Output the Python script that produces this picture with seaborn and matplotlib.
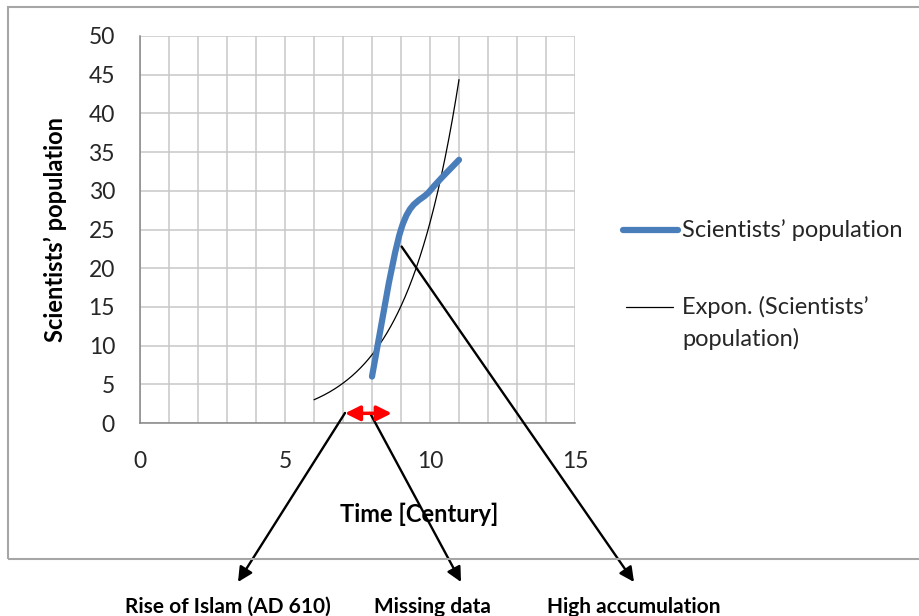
import numpy as np
import matplotlib.pyplot as plt
import seaborn as sns
from matplotlib.path import Path
from matplotlib.patches import PathPatch, Rectangle
from matplotlib.lines import Line2D
from matplotlib.ticker import MultipleLocator

# ── Data ──────────────────────────────────────────────────────────────────
century    = [8, 9, 10, 11]
scientists = [6, 25, 30, 34]
trend_from = 6          # exponential trendline, forecast backward to century 6

# ── Annotations (positions of the hand-drawn arrows) ─────────────────────
span_x     = [7.07, 8.68]
span_y     = 1.25
arrow_from = [(7.07, 1.3), (7.93, 1.3), (9.02, 22.8)]
arrow_to   = [(238, 582), (461, 582), (634, 582)]      # figure pixels, from top
notes      = ['Rise of Islam (AD 610)', 'Missing data', 'High accumulation']
notes_x    = [228, 432, 634]

BLUE  = '#4A7EBB'
GRID  = '#C8C8C8'
AXIS  = '#868686'
TEXT  = '#262626'
W, H  = 920, 616

sns.set_theme(style='white')
plt.rcParams['font.family'] = ['Lato', 'DejaVu Sans']


def fig_xy(x, y):
    return x / W, 1 - y / H


fig = plt.figure(figsize=(W / 100, H / 100), dpi=100)
fig.patch.set_facecolor('white')
ax = fig.add_axes([140 / W, 1 - 423 / H, 435 / W, 387 / H])

# ── Exponential trendline fitted to the series ───────────────────────────
b, ln_a = np.polyfit(century, np.log(scientists), 1)
trend_x = np.linspace(trend_from, max(century), 200)
trend_y = np.exp(ln_a + b * trend_x)
sns.lineplot(x=trend_x, y=trend_y, color='black', linewidth=0.9, ax=ax, zorder=3)

# ── Smoothed series (Bezier through the points, like a spreadsheet "smoothed line")
pts = np.column_stack([century, scientists]).astype(float)
verts, codes = [pts[0]], [Path.MOVETO]
n = len(pts)
for i in range(n - 1):
    prev_p = pts[max(i - 1, 0)]
    next_p = pts[min(i + 2, n - 1)]
    c1 = pts[i] + (pts[i + 1] - prev_p) / 6
    c2 = pts[i + 1] - (next_p - pts[i]) / 6
    verts += [c1, c2, pts[i + 1]]
    codes += [Path.CURVE4] * 3
ax.add_patch(PathPatch(Path(verts, codes), fill=False, edgecolor=BLUE,
                       linewidth=4.5, capstyle='round', joinstyle='round', zorder=4))

# ── Axes styling ─────────────────────────────────────────────────────────
ax.set_xlim(0, 15)
ax.set_ylim(0, 50)
ax.xaxis.set_major_locator(MultipleLocator(5))
ax.xaxis.set_minor_locator(MultipleLocator(1))
ax.yaxis.set_major_locator(MultipleLocator(5))
ax.set_axisbelow(True)
ax.grid(which='both', axis='x', color=GRID, linewidth=1.1)
ax.grid(which='major', axis='y', color=GRID, linewidth=1.1)
for s in ['top', 'right']:
    ax.spines[s].set_visible(False)
for s in ['left', 'bottom']:
    ax.spines[s].set_color(AXIS)
    ax.spines[s].set_linewidth(1.1)
ax.tick_params(axis='x', which='minor', length=0)
ax.tick_params(which='major', length=7, width=1.1, color=AXIS, direction='out',
               labelsize=16.5, labelcolor=TEXT)
ax.tick_params(axis='x', which='major', pad=13)
ax.tick_params(axis='y', which='major', pad=11)

ax.set_xlabel('Time [Century]', fontsize=17, fontweight='bold', color='black')
ax.xaxis.set_label_coords(0.641, -0.205)
ax.set_ylabel('Scientists\u2019 population', fontsize=17, fontweight='bold', color='black')
ax.yaxis.set_label_coords(-0.168, 0.5)

# ── Red span arrow + black pointer arrows ────────────────────────────────
for (sx, sy), (tx, ty) in zip(arrow_from, arrow_to):
    ax.annotate('', xy=(tx, H - ty), xycoords='figure pixels',
                xytext=(sx, sy), textcoords='data',
                arrowprops=dict(arrowstyle='-|>', color='black', lw=1.7,
                                mutation_scale=22, shrinkA=0, shrinkB=0),
                annotation_clip=False, zorder=5)
ax.annotate('', xy=(span_x[1], span_y), xytext=(span_x[0], span_y),
            arrowprops=dict(arrowstyle='<|-|>,head_length=0.6,head_width=0.3',
                            color='#FF0000', lw=2.5, mutation_scale=15,
                            shrinkA=0, shrinkB=0),
            annotation_clip=False, zorder=6)

for label, x in zip(notes, notes_x):
    fig.text(*fig_xy(x, 607), label, ha='center', va='center',
             fontsize=15, fontweight='bold', color='black')

# ── Legend (drawn by hand to match placement) ────────────────────────────
fig.add_artist(Line2D([623 / W, 678 / W], [1 - 230 / H] * 2, color=BLUE, lw=4.5))
fig.text(*fig_xy(682, 230), 'Scientists\u2019 population', fontsize=17,
         va='center', color=TEXT)
fig.add_artist(Line2D([626 / W, 673 / W], [1 - 307 / H] * 2, color='black', lw=0.9))
fig.text(*fig_xy(682, 307), 'Expon. (Scientists\u2019', fontsize=17, va='center', color=TEXT)
fig.text(*fig_xy(682, 339), 'population)', fontsize=17, va='center', color=TEXT)

# ── Chart-area border ────────────────────────────────────────────────────
fig.add_artist(Rectangle(fig_xy(8, 559), 2, (559 - 7) / H, transform=fig.transFigure,
                         fill=False, edgecolor='#A6A6A6', linewidth=1.5))

plt.savefig('out.png', dpi=100)
plt.close()
